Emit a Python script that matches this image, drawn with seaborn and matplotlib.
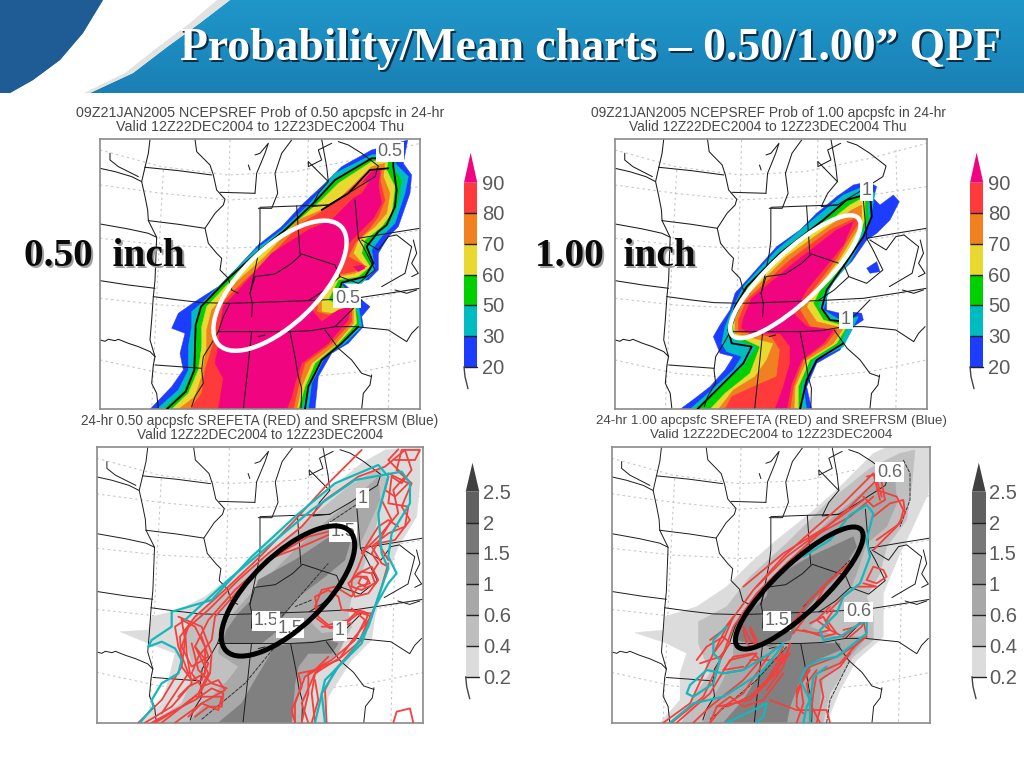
import numpy as np
import pandas as pd
import matplotlib
matplotlib.use("Agg")
import matplotlib.pyplot as plt
from matplotlib.colors import ListedColormap, LinearSegmentedColormap
from matplotlib.patches import Ellipse, Polygon
import seaborn as sns

W, H = 1024, 768

# ====== map outlines (all in the coordinates of the first panel) ======
MAP_FRAME = (15, 975, 838, 28)
MAP_LINES = [
    [(15,115),(60,125),(110,140),(140,155)],
    [(150,112),(250,122),(350,135)],
    [(150,112),(140,155),(150,200),(158,240),(160,272)],
    [(160,272),(250,283),(330,295)],
    [(45,70),(45,90),(70,110),(100,125),(130,140)],
    [(165,28),(160,70),(150,112)],
    [(300,28),(305,65),(345,105),(355,135),(365,180),(390,208),(385,225),(360,250),(330,295),(340,340),(365,370),(380,385),(375,420),(400,445),(410,480),(430,490)],
    [(375,187),(480,190)],
    [(495,235),(495,330),(490,370),(480,420),(465,490)],
    [(15,282),(100,297),(160,310),(185,322)],
    [(160,272),(185,322),(182,400),(180,450),(175,500)],
    [(15,452),(100,465),(180,475)],
    [(175,500),(250,510),(320,518),(405,520),(500,517),(640,512),(780,505),(880,490),(975,475)],
    [(175,500),(170,570),(165,630),(180,680)],
    [(15,630),(30,634),(40,628),(60,632),(70,628),(100,640),(130,650),(165,665),(180,680)],
    [(180,705),(250,710),(320,715)],
    [(180,680),(175,705),(170,760),(185,790),(190,835)],
    [(405,520),(385,560),(370,605),(350,640),(325,680),(320,720),(325,760),(300,800),(290,830)],
    [(370,605),(470,605),(585,605),(650,602),(720,590),(800,510)],
    [(470,605),(460,700),(445,838)],
    [(585,605),(600,680),(610,740),(620,775),(618,838)],
    [(690,600),(730,655),(770,690),(800,730),(830,740)],
    [(720,590),(780,590),(880,600),(935,635),(950,610),(970,590)],
    [(830,735),(825,765),(805,790),(800,838)],
    [(465,490),(480,440),(540,432),(590,400),(620,372),(680,392),(720,405),(735,440),(690,480),(640,512)],
    [(605,228),(610,300),(615,372)],
    [(495,232),(605,228),(700,225)],
    [(480,190),(485,130),(510,70),(520,40),(495,70),(480,75)],
    [(490,235),(530,235),(548,190),(540,130),(560,70),(590,30)],
    [(640,95),(660,115),(700,155),(670,190),(650,230),(700,225)],
    [(680,28),(695,110),(700,155)],
    [(640,95),(640,110),(680,90),(670,60),(710,40)],
    [(700,225),(760,190),(840,140),(850,108),(800,70),(760,45),(730,35)],
    [(780,210),(790,325),(880,310),(975,295)],
    [(800,330),(850,360),(880,320),(905,315),(950,350),(930,430),(860,470)],
    [(735,440),(790,460),(840,420),(810,360),(790,325)],
    [(955,330),(965,370),(950,400),(970,430),(950,440)],
    [(900,480),(935,490),(965,480)],
    [(460,105),(465,120)],
    [(465,490),(472,520),(470,560)],
    [(490,620),(510,615)],
]
GRID_LINES = [
    [(15,60),(200,110),(400,135),(600,125),(800,85),(975,40)],
    [(15,165),(200,190),(400,210),(600,200),(800,195),(975,170)],
    [(15,325),(200,345),(400,355),(600,345),(800,330),(975,300)],
    [(15,505),(200,525),(400,535),(600,525),(800,510),(975,475)],
    [(15,690),(200,730),(400,745),(600,745),(800,725),(975,690)],
    [(205,120),(190,400),(170,838)],
    [(405,30),(395,400),(370,838)],
    [(640,30),(630,400),(600,838)],
    [(880,60),(890,400),(880,838)],
]

# ====== top left: probability of 0.50 ======
PROB_COLORS = ["#ff3a3a", "#f08020", "#e8d830", "#00d000", "#00bcc0", "#1c3cff"]
PROB_LABELS = ["90", "80", "70", "60", "50", "30", "20"]
PINK = "#f0047f"

p050_blue = [(165,838),(230,770),(265,720),(255,670),(270,610),(230,595),(250,550),(300,515),(370,470),(420,420),(490,345),(560,290),(620,225),(690,160),(740,110),(830,60),(905,40),(938,30),(925,100),(950,135),(945,190),(910,290),(880,320),(850,370),(850,420),(820,450),(740,455),(800,510),(825,530),(800,560),(805,590),(760,640),(710,670),(670,740),(660,838)]
p050_teal = [(185,838),(250,780),(280,720),(280,650),(290,590),(290,545),(330,510),(400,440),(480,360),(560,300),(640,225),(720,130),(830,75),(915,60),(900,100),(940,140),(930,190),(900,280),(860,320),(830,360),(840,420),(800,460),(735,460),(790,520),(800,590),(750,640),(690,680),(650,760),(640,838)]
p050_green = [(205,838),(265,785),(295,720),(300,650),(305,585),(320,530),(400,445),(490,365),(570,300),(660,215),(720,150),(830,85),(900,80),(890,110),(920,150),(905,230),(880,285),(850,310),(815,350),(830,400),(810,440),(735,455),(770,505),(790,560),(790,590),(740,640),(680,690),(640,770),(620,838)]
p050_yellow = [(230,838),(280,790),(310,720),(320,650),(320,590),(335,530),(410,450),(500,370),(600,280),(680,210),(730,160),(830,95),(880,85),(875,120),(900,170),(890,250),(860,290),(810,330),(800,370),(825,410),(790,440),(730,450),(700,510),(720,520),(780,525),(785,580),(730,640),(660,700),(630,770),(610,838)]
p050_orange = [(250,838),(300,800),(320,740),(335,650),(335,600),(350,540),(420,460),(510,380),(610,270),(680,240),(740,200),(830,110),(870,100),(865,140),(885,190),(875,250),(840,290),(790,330),(775,370),(810,410),(780,430),(725,440),(680,510),(680,545),(710,550),(775,530),(775,580),(720,645),(650,700),(620,770),(605,838)]
p050_red = [(285,838),(320,790),(330,720),(355,640),(355,600),(370,530),(430,470),(520,385),(620,280),(680,245),(770,190),(830,120),(860,115),(855,150),(870,210),(850,260),(820,300),(780,340),(760,380),(815,410),(775,425),(725,435),(670,510),(665,545),(700,555),(770,530),(770,575),(710,640),(630,700),(610,770),(595,838)]
p050_pink = [(370,838),(385,745),(360,700),(370,650),(375,590),(385,530),(440,470),(530,370),(640,300),(710,270),(780,200),(790,170),(830,125),(855,120),(850,170),(860,220),(835,265),(790,310),(760,340),(740,400),(700,480),(650,540),(680,575),(730,540),(765,530),(760,570),(700,640),(620,700),(600,760),(590,800),(575,838)]
p050_red_blob = [(690,235),(740,200),(780,165),(825,150),(800,190),(740,220)]
p050_pink_blob = [(775,410),(800,405),(810,415),(790,425)]
p050_black = [(215,838),(272,785),(298,720),(300,650),(302,585),(318,530),(400,445),(490,365),(570,300),(660,215),(720,150),(830,85),(895,85),(895,110),(905,180),(900,230),(875,285),(850,305),(815,350),(835,400),(810,440),(740,458),(730,490)]
p050_black2 = [(790,590),(740,640),(680,690),(640,770),(630,838)]
p050_black3 = [(680,240),(760,190),(825,120),(880,115)]
p050_labels = [("0.5", 885, 65), ("0.5", 757, 505)]

# ====== top right: probability of 1.00 (own panel coordinates) ======
p100_blue = [(210,838),(255,805),(300,770),(345,720),(370,680),(330,670),(310,620),(330,585),(360,540),(375,490),(420,440),(500,350),(570,300),(620,250),(680,200),(730,165),(775,155),(800,170),(790,205),(810,225),(850,195),(868,215),(840,270),(800,310),(770,330),(725,395),(680,440),(650,490),(650,540),(690,550),(720,545),(755,550),(760,570),(730,590),(720,610),(690,660),(620,700),(590,770),(605,838)]
p100_blue_blob = [(770,415),(800,395),(810,425),(780,430)]
p100_teal = [(240,838),(300,785),(370,720),(395,680),(350,665),(335,640),(345,590),(370,530),(400,470),(500,360),(620,260),(700,195),(760,170),(795,190),(780,270),(760,320),(720,395),(660,470),(640,540),(690,570),(745,560),(730,590),(700,650),(620,690),(580,770),(590,838)]
p100_green = [(255,838),(320,780),(400,710),(440,650),(365,625),(355,580),(385,510),(420,460),(510,370),(640,270),(710,215),(770,190),(775,270),(750,320),(710,390),(645,480),(625,530),(660,570),(715,585),(690,640),(610,690),(575,770),(575,838)]
p100_yellow = [(300,838),(345,790),(420,730),(450,650),(375,615),(365,575),(395,510),(520,375),(650,280),(720,225),(765,200),(765,270),(745,310),(700,390),(630,480),(610,520),(640,570),(710,590),(680,640),(600,690),(565,770),(565,838)]
p100_orange = [(325,838),(370,780),(435,740),(470,690),(490,640),(375,610),(375,570),(400,510),(530,380),(655,290),(725,240),(755,225),(755,280),(735,310),(690,385),(610,490),(590,530),(620,575),(700,595),(670,640),(590,690),(555,770),(552,838)]
p100_red = [(345,838),(365,800),(430,770),(500,740),(510,660),(485,620),(385,605),(385,570),(410,510),(540,390),(660,300),(735,265),(745,280),(725,310),(680,385),(600,490),(570,540),(600,590),(680,600),(650,640),(580,690),(550,770),(540,838)]
p100_pink = [(400,565),(425,505),(550,400),(680,300),(730,275),(700,345),(590,480),(550,550),(590,590),(670,600),(640,640),(575,690),(545,760),(530,838),(495,838),(520,770),(540,700),(540,650),(510,610),(420,610),(395,595)]
p100_black = [(262,838),(320,780),(400,700),(425,650),(365,640),(355,600),(375,530),(410,470),(510,370),(640,270),(710,210),(780,190),(785,260),(760,320),(710,395),(650,480),(635,535),(660,570),(700,575)]
p100_black2 = [(700,640),(620,690),(590,750),(570,838)]
p100_labels = [("1", 770, 182), ("1", 708, 568)]

# ====== bottom left: mean 0.50 ======
MEAN_COLORS = ["#606060", "#787878", "#909090", "#a8a8a8", "#bebebe", "#dcdcdc"]
MEAN_LABELS = ["2.5", "2", "1.5", "1", "0.6", "0.4", "0.2"]
LINE_RED = "#f4403c"
LINE_TEAL = "#14b8bc"

m050_light = [(130,848),(200,790),(220,720),(240,640),(160,610),(75,575),(160,570),(170,530),(250,510),(330,470),(420,400),(490,330),(600,240),(700,150),(800,70),(870,30),(975,22),(975,130),(965,230),(910,320),(870,420),(840,530),(830,600),(770,660),(700,770),(690,848)]
m050_mid = [(170,848),(260,790),(300,700),(270,600),(290,540),(400,440),(500,360),(640,240),(760,140),(850,85),(880,120),(860,200),(830,300),(800,400),(770,470),(760,520),(770,560),(740,620),(650,720),(620,848)]
m050_one = [(280,848),(340,780),(400,720),(430,680),(370,640),(380,560),(460,470),(600,330),(700,240),(780,175),(850,110),(855,180),(810,280),(770,360),(720,460),(640,540),(680,580),(760,570),(730,640),(620,720),(590,848)]
m050_dark_a = [(395,570),(430,520),(470,480),(490,420),(600,360),(720,280),(770,290),(750,360),(690,410),(610,470),(560,535),(550,570),(500,610),(380,610)]
m050_dark_b = [(370,848),(440,790),(480,720),(540,620),(590,610),(700,600),(730,610),(710,640),(640,640),(610,680),(600,730),(590,848)]
m050_red = [
    [(130,848),(200,780),(260,680),(255,590),(300,530),(400,440),(500,345),(600,240),(700,130),(800,30)],
    [(150,848),(230,800),(290,730),(275,640),(270,570),(340,510),(430,420),(520,340),(620,260),(690,180),(790,110),(870,80),(930,30)],
    [(180,848),(260,800),(310,760),(340,700),(300,620),(340,540),(420,450),(520,360),(640,290),(720,270)],
    [(240,848),(320,790),(390,750),(370,720),(320,740),(290,700),(310,650),(350,600),(360,530),(440,440)],
    [(260,540),(300,560),(330,620),(330,700),(290,720),(260,680),(270,600),(260,540)],
    [(200,848),(300,770),(380,770),(370,810),(320,790),(280,830)],
    [(170,848),(240,810),(300,780),(350,745),(385,760),(380,800),(340,800),(300,830)],
    [(250,530),(320,560),(350,640),(345,700),(310,770)],
    [(280,560),(260,620),(290,680),(340,650),(320,590)],
    [(300,620),(340,670),(320,720),(280,740),(250,770)],
    [(200,820),(280,700),(250,620),(240,560),(270,540)],
    [(290,610),(310,690),(350,730),(395,745)],
    [(600,848),(600,790),(630,710),(680,680),(730,660),(780,590),(830,530),(790,515),(740,510)],
    [(620,848),(640,760),(640,700),(710,660),(780,600),(810,540),(770,505)],
    [(660,848),(650,760),(660,700),(740,650),(800,600)],
    [(695,848),(690,750),(720,690),(790,610),(840,500),(860,440),(880,370)],
    [(600,848),(590,810),(620,740),(610,700),(660,690),(700,650)],
    [(640,848),(620,790),(660,700),(690,670)],
    [(650,848),(670,780),(660,720)],
    [(930,30),(950,90),(920,130),(890,110),(880,190),(940,200),(930,260),(880,280),(830,320),(860,370),(880,380)],
    [(910,28),(880,60),(930,110),(895,150),(910,220),(860,280),(810,330),(790,380),(770,420)],
    [(900,60),(960,60),(975,30),(920,30),(905,90),(950,130),(920,200),(945,240),(900,300),(850,310),(880,360)],
    [(860,180),(890,240),(860,290),(830,340),(850,370),(830,400)],
    [(880,100),(940,130),(900,170),(870,150),(880,110)],
    [(800,340),(850,260),(880,240),(910,260)],
    [(770,420),(800,395),(830,400),(840,430),(800,450),(770,440),(770,420)],
    [(790,400),(830,380),(850,420),(820,460),(780,470),(760,430),(790,400)],
    [(800,410),(820,420),(810,440),(790,430),(800,410)],
    [(785,410),(815,410),(825,430),(790,440),(770,470),(720,440),(680,450),(660,500),(670,530)],
    [(670,520),(660,470),(700,450),(730,470),(740,510)],
    [(670,530),(700,555),(760,540),(790,510),(820,520),(810,550)],
    [(665,535),(705,565),(770,550)],
    [(680,560),(740,560),(790,520),(830,520),(800,590)],
    [(895,848),(905,815),(945,805),(955,848)],
    [(540,350),(620,320),(700,285),(760,250)],
]
m050_teal = [
    [(160,620),(200,605),(240,625),(260,660),(250,700),(200,730),(170,780),(175,800),(135,848)],
    [(160,620),(170,600),(230,560),(230,515),(350,480),(470,350),(600,230),(720,130),(850,75),(880,110),(850,220),(860,340),(880,385),(850,470),(820,560),(760,650),(690,720),(660,848)],
    [(270,540),(400,420),(530,310),(650,210),(780,120),(920,95),(945,130),(945,190),(890,280),(880,350),(905,400),(880,430),(840,500),(800,610),(730,680),(680,760),(690,848)],
]
m050_black = [[(320,838),(450,730),(540,620)], [(560,530),(700,370)], [(650,480),(600,500)], [(700,250),(790,190)]]
m050_labels = [("1", 803, 175), ("1.5", 743, 275), ("1.5", 512, 542), ("1.5", 585, 565), ("1", 735, 572)]

# ====== bottom right: mean 1.00 ======
m100_light = [(150,848),(210,780),(210,700),(230,640),(170,610),(75,578),(160,570),(165,530),(260,500),(350,440),(420,370),(500,300),(600,220),(680,150),(790,40),(830,22),(960,22),(955,160),(900,280),(870,340),(820,460),(820,590),(740,660),(690,750),(650,848)]
m100_mid = [(215,848),(250,770),(300,700),(265,610),(265,545),(350,500),(420,410),(530,310),(650,190),(780,85),(870,40),(915,30),(905,140),(890,240),(830,320),(810,400),(770,470),(790,530),(790,600),(730,650),(660,760),(640,848)]
m100_one = [(280,848),(300,790),(340,720),(370,650),(370,560),(450,460),(530,370),(660,240),(790,130),(855,110),(860,190),(830,260),(770,310),(740,400),(720,450),(650,510),(600,560),(680,590),(770,590),(720,650),(640,710),(620,848)]
m100_dark_a = [(380,600),(400,530),(470,470),(480,420),(600,350),(730,290),(740,320),(690,400),(620,470),(570,530),(540,600),(480,620)]
m100_dark_b = [(340,848),(400,780),(450,700),(510,640),(550,610),(690,610),(690,630),(620,660),(570,720),(540,800),(530,848)]
m100_red = [
    [(160,848),(240,790),(310,640),(350,560),(430,450),(520,350),(620,260),(700,190),(790,100),(810,180)],
    [(185,848),(280,770),(340,640),(370,560),(440,460),(530,370),(640,270),(720,200),(800,120),(815,170)],
    [(440,440),(530,350),(610,290),(720,230),(790,170)],
    [(400,440),(520,340),(650,260),(760,180)],
    [(200,848),(300,760),(360,660),(440,640),(400,690),(340,700)],
    [(300,848),(340,800),(400,760),(440,700),(480,640),(500,620)],
    [(300,848),(320,800),(360,770),(400,800),(460,780),(520,700)],
    [(350,800),(440,760),(540,640)],
    [(420,770),(470,720),(520,640),(500,700),(440,750)],
    [(250,848),(300,800),(400,720),(460,650)],
    [(260,660),(290,620),(340,590),(360,610),(330,650),(270,670)],
    [(320,800),(420,780),(470,730),(530,640),(540,610),(520,680),(470,750)],
    [(400,560),(420,600),(440,615),(420,570)],
    [(400,570),(410,610),(430,625),(440,600),(420,560)],
    [(450,660),(430,640),(370,650),(340,690),(400,680)],
    [(300,600),(340,570),(370,530),(340,600),(310,640)],
    [(480,780),(560,810),(650,810),(660,848)],
    [(560,770),(580,710),(600,690),(560,750),(560,800),(580,820)],
    [(560,848),(580,790),(570,720),(600,680),(680,650),(730,620),(770,590),(760,540),(700,590),(660,570),(620,540),(660,500)],
    [(600,848),(610,760),(620,700),(690,670),(760,590)],
    [(620,848),(640,770),(630,720),(690,680),(720,640)],
    [(630,848),(600,790),(590,730),(620,690)],
    [(540,560),(600,480),(660,420),(740,350)],
    [(550,580),(610,500),(680,430)],
    [(600,520),(650,430),(720,370)],
    [(560,570),(620,580),(660,570),(640,530),(600,550)],
    [(580,570),(640,590),(680,580),(650,540),(670,510)],
    [(700,570),(740,560),(770,530),(755,560),(720,590)],
    [(770,110),(810,100),(825,180),(790,200),(760,170)],
    [(790,230),(840,190),(880,180),(885,220),(860,260),(830,290),(790,330)],
    [(800,150),(860,170),(880,210),(870,250),(800,300)],
    [(770,420),(790,380),(820,390),(830,410),(800,430),(770,420)],
    [(760,430),(800,440),(740,440),(700,470),(650,520)],
    [(420,660),(500,660),(520,620)],
]
m100_teal = [
    [(180,848),(250,790),(340,770),(450,700),(500,640),(520,610),(480,640),(400,690),(340,700),(290,690),(240,735),(230,760),(250,770),(310,730),(330,660),(310,640),(310,600),(350,560)],
    [(350,848),(430,810),(470,790),(460,830),(440,848)],
    [(580,848),(590,800),(600,780),(570,720),(590,680),(630,660),(680,650),(720,620),(770,580),(770,540),(720,570),(690,590),(640,600),(630,570),(680,520),(700,470),(750,430),(780,350),(770,300),(790,220),(770,195),(720,225),(660,300),(580,350)],
    [(600,848),(600,790),(610,710),(650,680)],
]
m100_black = [[(300,838),(440,720),(530,620)], [(580,500),(720,360)], [(880,60),(900,100),(900,180),(870,260)], [(650,848),(660,780),(720,660)]]
m100_labels = [("0.6", 838, 97), ("1.5", 500, 542), ("0.6", 745, 515), ("", 725, 272), ("", 590, 548)]

# ====== header / text ======
TITLE = "Probability/Mean charts \u2013 0.50/1.00\u201d QPF"
HEADER_DARK = [(0,0),(103,0),(83,33),(60,60),(33,80),(10,93),(0,93)]
HEADER_WHITE = [(103,0),(230,0),(200,23),(167,47),(133,73),(90,93),(10,93),(33,80),(60,60),(83,33)]
HEADER_SHADE = [(230,0),(217,0),(190,23),(158,47),(125,73),(84,93),(90,93),(133,73),(167,47),(200,23)]

sns.set_theme(style="white")
plt.rcParams["font.family"] = ["Liberation Sans", "DejaVu Sans"]
fig = plt.figure(figsize=(W / 100, H / 100), dpi=100, facecolor="white")


def px_axes(left, top, right, bottom, zorder=1):
    return fig.add_axes([left / W, 1 - bottom / H, (right - left) / W, (bottom - top) / H], zorder=zorder)


def draw_line(ax, pts, color="black", lw=1.0, ls="-", z=3):
    d = pd.DataFrame(pts, columns=["x", "y"])
    sns.lineplot(data=d, x="x", y="y", sort=False, estimator=None, color=color,
                 linewidth=lw, linestyle=ls, ax=ax, zorder=z, legend=False)


def fill_band(ax, pts, color, z=1):
    ax.add_patch(Polygon(pts, closed=True, facecolor=color, edgecolor=color, linewidth=0.3, zorder=z))


def base_map(ax, frame, lw=0.75):
    # move the shared outline into this panel's coordinates
    x0, x1, y1, y0 = frame
    mx0, mx1, my1, my0 = MAP_FRAME
    sx = (x1 - x0) / (mx1 - mx0)
    sy = (y1 - y0) / (my1 - my0)
    for line in GRID_LINES:
        pts = [(x0 + (x - mx0) * sx, y0 + (y - my0) * sy) for x, y in line]
        draw_line(ax, pts, color="#c4c4c4", lw=0.8, ls=(0, (2, 3)), z=0.5)
    for line in MAP_LINES:
        pts = [(x0 + (x - mx0) * sx, y0 + (y - my0) * sy) for x, y in line]
        draw_line(ax, pts, color="#1c1c1c", lw=lw, z=2)


def finish_panel(ax, frame, labels):
    for text, x, y in labels:
        ax.text(x, y, text, ha="center", va="center", fontsize=13, color="#666666", zorder=6,
                bbox=dict(facecolor="white", edgecolor="none", pad=1.2))
    ax.set_xlim(frame[0], frame[1])
    ax.set_ylim(frame[2], frame[3])
    ax.set_xlabel("")
    ax.set_ylabel("")
    ax.set_xticks([])
    ax.set_yticks([])
    for s in ax.spines.values():
        s.set_visible(True)
        s.set_color("#8a8a8a")
        s.set_linewidth(1.2)


def colorbar(left, right, top, bottom, apex, colors, tip, labels, label_x):
    ax = px_axes(left, top, right, bottom, zorder=2)
    cells = np.arange(len(colors)).reshape(-1, 1)
    sns.heatmap(cells, cmap=ListedColormap(colors), vmin=0, vmax=len(colors) - 1, cbar=False,
                xticklabels=False, yticklabels=False, ax=ax)
    ax.hlines(np.arange(1, len(colors)), 0, 1, colors="#222222", linewidth=1.0)
    step = (bottom - top) / len(colors)
    for i, lab in enumerate(labels):
        over.text(label_x, top + i * step + 1.5, lab, fontsize=14.5, color="#5a5a5a", ha="left", va="center")
    over.add_patch(Polygon([(left, top), (right, top), ((left + right) / 2, apex)], facecolor=tip, edgecolor="none"))
    over.plot([left, right], [bottom, bottom], color="#222222", lw=1.0)
    over.plot([left, left + 1, left + 4], [bottom, bottom + 10, bottom + 22], color="#444444", lw=1.0)


# overlay in plain pixels: header, titles, ellipses
over = px_axes(0, 0, W, H, zorder=3)
over.set_xlim(0, W)
over.set_ylim(H, 0)
over.axis("off")
over.patch.set_alpha(0)

header_cmap = LinearSegmentedColormap.from_list("hdr", ["#1f96c8", "#1c8cc0", "#1a7fb4"])
over.imshow(np.linspace(0, 1, 30).reshape(-1, 1), cmap=header_cmap, extent=(0, W, 93, 0), aspect="auto", zorder=0)
over.set_xlim(0, W)
over.set_ylim(H, 0)
over.add_patch(Polygon(HEADER_WHITE, facecolor="white", edgecolor="none", zorder=1))
over.add_patch(Polygon(HEADER_SHADE, facecolor="#e2e2e2", edgecolor="none", zorder=1))
over.add_patch(Polygon(HEADER_DARK, facecolor="#1f5c96", edgecolor="none", zorder=1))

serif = ["Liberation Serif", "DejaVu Serif"]
over.text(182, 51, TITLE, family=serif, fontweight="bold", fontsize=32.9, color="#0a2c44", va="center", zorder=2)
over.text(180, 49, TITLE, family=serif, fontweight="bold", fontsize=32.9, color="white", va="center", zorder=3)
for label, x in [("0.50  inch", 24), ("1.00  inch", 535)]:
    over.text(x + 2, 258, label, family=serif, fontweight="bold", fontsize=28.3, color="#a0a0a0", va="center", zorder=4)
    over.text(x, 256, label, family=serif, fontweight="bold", fontsize=28.3, color="#0a0a0a", va="center", zorder=5)

over.text(260, 113, "09Z21JAN2005 NCEPSREF Prob of 0.50 apcpsfc in 24-hr", ha="center", va="center", fontsize=10.3, color="#484848")
over.text(260, 127, "Valid 12Z22DEC2004 to 12Z23DEC2004 Thu", ha="center", va="center", fontsize=10.3, color="#484848")
over.text(768, 113, "09Z21JAN2005 NCEPSREF Prob of 1.00 apcpsfc in 24-hr", ha="center", va="center", fontsize=9.9, color="#484848")
over.text(768, 127, "Valid 12Z22DEC2004 to 12Z23DEC2004 Thu", ha="center", va="center", fontsize=9.9, color="#484848")
over.text(260, 421, "24-hr 0.50 apcpsfc SREFETA (RED) and SREFRSM (Blue)", ha="center", va="center", fontsize=9.8, color="#484848")
over.text(260, 435, "Valid 12Z22DEC2004 to 12Z23DEC2004", ha="center", va="center", fontsize=9.8, color="#484848")
over.text(771, 421, "24-hr 1.00 apcpsfc SREFETA (RED) and SREFRSM (Blue)", ha="center", va="center", fontsize=9.6, color="#484848")
over.text(771, 435, "Valid 12Z22DEC2004 to 12Z23DEC2004", ha="center", va="center", fontsize=9.6, color="#484848")

# ====== probability panels ======
frame_a = (15, 975, 838, 28)
ax = px_axes(100, 139.3, 420, 409.3)
p050 = [p050_blue, p050_teal, p050_green, p050_yellow, p050_orange, p050_red, p050_pink]
for band, col in zip(p050, PROB_COLORS[::-1] + [PINK]):
    fill_band(ax, band, col)
fill_band(ax, p050_red_blob, PROB_COLORS[0])
fill_band(ax, p050_pink_blob, PINK)
base_map(ax, frame_a)
for line in [p050_black, p050_black2, p050_black3]:
    draw_line(ax, line, color="black", lw=1.3, z=4)
finish_panel(ax, frame_a, p050_labels)

frame_b = (15, 950, 838, 28)
ax = px_axes(615, 139.3, 926.7, 409.3)
p100 = [p100_blue, p100_teal, p100_green, p100_yellow, p100_orange, p100_red, p100_pink]
for band, col in zip(p100, PROB_COLORS[::-1] + [PINK]):
    fill_band(ax, band, col)
fill_band(ax, p100_blue_blob, PROB_COLORS[5])
base_map(ax, frame_b)
for line in [p100_black, p100_black2]:
    draw_line(ax, line, color="black", lw=1.3, z=4)
finish_panel(ax, frame_b, p100_labels)

# ====== mean panels ======
GREY_LIGHT, GREY_MID, GREY_ONE, GREY_DARK = "#dcdcdc", "#c0c0c0", "#a8a8a8", "#808080"

frame_c = (5, 985, 848, 22)
ax = px_axes(96.7, 447.3, 423.3, 722.7)
for band, col in [(m050_light, GREY_LIGHT), (m050_mid, GREY_MID), (m050_one, GREY_ONE),
                  (m050_dark_a, GREY_DARK), (m050_dark_b, GREY_DARK)]:
    fill_band(ax, band, col)
base_map(ax, frame_c, lw=0.7)
for line in m050_black:
    draw_line(ax, line, color="#333333", lw=0.7, ls=(0, (4, 1)), z=3)
for line in m050_red:
    draw_line(ax, line, color=LINE_RED, lw=1.3, z=4)
for line in m050_teal:
    draw_line(ax, line, color=LINE_TEAL, lw=1.6, z=5)
finish_panel(ax, frame_c, m050_labels)

frame_d = (5, 960, 848, 22)
ax = px_axes(611.7, 447.3, 930, 722.7)
for band, col in [(m100_light, GREY_LIGHT), (m100_mid, GREY_MID), (m100_one, GREY_ONE),
                  (m100_dark_a, GREY_DARK), (m100_dark_b, GREY_DARK)]:
    fill_band(ax, band, col)
base_map(ax, frame_d, lw=0.7)
for line in m100_black:
    draw_line(ax, line, color="#333333", lw=0.7, ls=(0, (4, 1)), z=3)
for line in m100_red:
    draw_line(ax, line, color=LINE_RED, lw=1.3, z=4)
for line in m100_teal:
    draw_line(ax, line, color=LINE_TEAL, lw=1.6, z=5)
finish_panel(ax, frame_d, m100_labels)

# ====== colour bars ======
colorbar(464, 477.3, 182.7, 366.7, 152.7, PROB_COLORS, PINK, PROB_LABELS, 482)
colorbar(970, 983.3, 182.7, 366.7, 152.7, PROB_COLORS, PINK, PROB_LABELS, 988)
colorbar(465.7, 479.3, 491.7, 676.7, 462.7, MEAN_COLORS, "#404040", MEAN_LABELS, 483)
colorbar(972, 985.6, 491.7, 676.7, 462.7, MEAN_COLORS, "#404040", MEAN_LABELS, 989)

# ====== ellipses ======
over.add_patch(Ellipse((280, 285.7), 170, 76, angle=-44, fill=False, edgecolor="white", linewidth=3.2, zorder=6))
over.add_patch(Ellipse((795.3, 276.7), 172, 50, angle=-43, fill=False, edgecolor="white", linewidth=3.2, zorder=6))
over.add_patch(Ellipse((288, 591), 172, 72, angle=-44, fill=False, edgecolor="black", linewidth=3.6, zorder=6))
over.add_patch(Ellipse((799.3, 588), 170, 48, angle=-43.5, fill=False, edgecolor="black", linewidth=3.6, zorder=6))

fig.savefig("out.png", dpi=100)
